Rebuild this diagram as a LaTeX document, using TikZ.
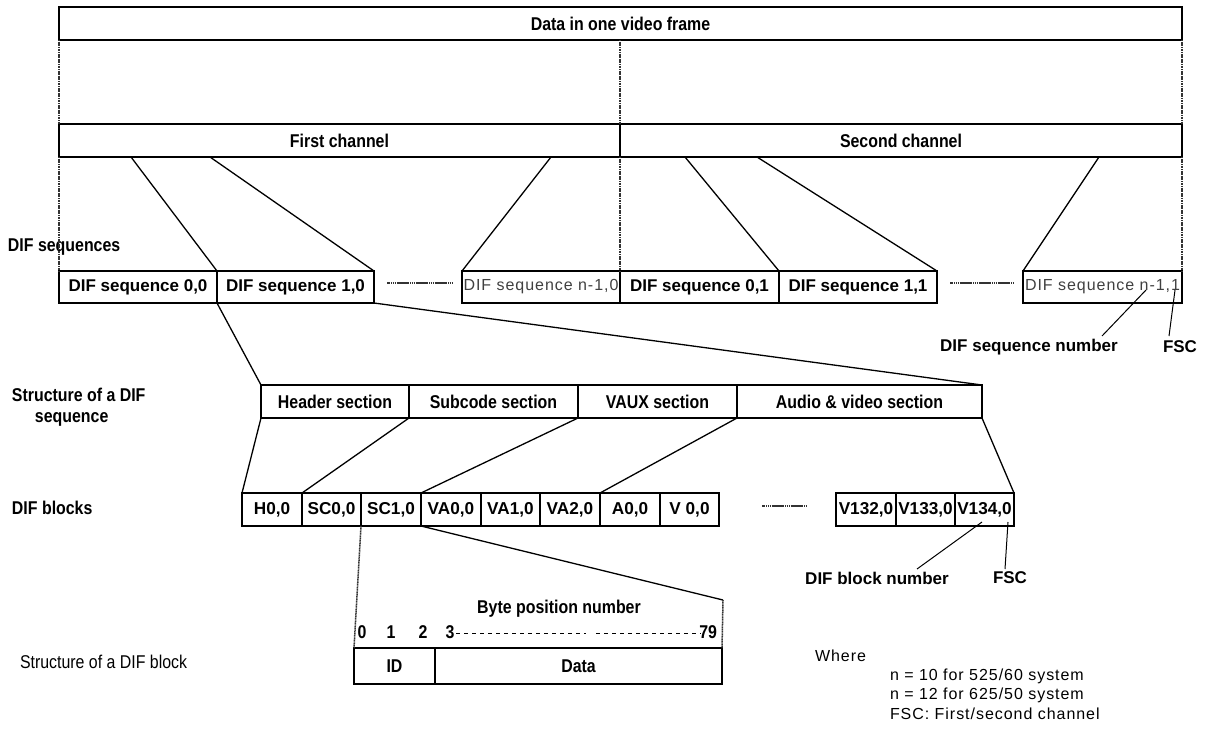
\documentclass[tikz,border=0pt]{standalone}
\usepackage{fontspec}
\setmainfont{Liberation Sans}
\newfontfamily\narfont[FakeStretch=0.86]{Liberation Sans}
\newfontfamily\spcfont[LetterSpace=6]{Liberation Sans}
\usetikzlibrary{calc}
\begin{document}
\begin{tikzpicture}[x=1pt,y=-1pt,
  box/.style={draw, line width=1.3pt, inner sep=0pt, outer sep=0pt, anchor=north west},
  bx/.style 2 args={box, minimum width=#1pt, minimum height=#2pt},
  nb/.style={font=\narfont\bfseries\fontsize{18.5}{21}\selectfont},
  wb/.style={font=\bfseries\fontsize{17}{19}\selectfont},
  blk/.style={font=\bfseries\fontsize{17.2}{19}\selectfont},
  sp/.style={font=\spcfont\fontsize{16}{19}\selectfont},
  lab/.style={inner sep=0pt, outer sep=0pt},
  ln/.style={line width=1.3pt},
  dots/.style={line width=1.5pt, black!80, dash pattern=on 1.2pt off 0.5pt},
  sep/.style={line width=1.8pt, black!80, dash pattern=on 1.5pt off 0.4pt}]
\useasboundingbox (0,0) rectangle (1209,729);

% top frame and channels
\node[bx={1123}{33}, nb] (frame) at (59,7) {Data in one video frame};
\node[bx={561}{33}, nb] (ch1) at (59,124) {First channel};
\node[bx={562}{33}, nb] (ch2) at (620,124) {Second channel};
\draw[dots] (frame.south west) -- (ch1.north west);
\draw[dots] (frame.south east) -- (ch2.north east);
\draw[dots] (ch1.north east |- frame.south) -- (ch1.north east);

% DIF sequences
\node[lab, nb, anchor=west] (lseq) at (8,247) {DIF sequences};
\node[bx={158}{32}, wb] (s00) at (59,271) {DIF sequence 0,0};
\node[bx={157}{32}, wb] (s10) at (217,271) {DIF sequence 1,0};
\node[bx={158}{32}, sp, text=black!75] (sn0) at (462,271) {DIF sequence n-1,0};
\node[bx={159}{32}, wb] (s01) at (620,271) {DIF sequence 0,1};
\node[bx={158}{32}, wb] (s11) at (779,271) {DIF sequence 1,1};
\node[bx={159}{32}, sp, text=black!75] (sn1) at (1023,271) {DIF sequence n-1,1};
\draw[dots] (ch1.south west) -- (s00.north west);
\draw[dots] (ch1.south east) -- (s01.north west);
\draw[dots] (ch2.south east) -- (sn1.north east);
\coordinate (d1a) at (387,283); \coordinate (d1b) at (453,283);
\coordinate (d2a) at (950,283); \coordinate (d2b) at (1014,283);
\draw[sep] (d1a) -- (d1b);
\draw[sep] (d2a) -- (d2b);

% fan lines from channels
\coordinate (f1) at (131,157); \coordinate (f2) at (210,157); \coordinate (f3) at (551,157);
\coordinate (f4) at (685,157); \coordinate (f5) at (757,157); \coordinate (f6) at (1099,157);
\draw[ln] (f1) -- (s00.north east);
\draw[ln] (f2) -- (s10.north east);
\draw[ln] (f3) -- (sn0.north west);
\draw[ln] (f4) -- (s01.north east);
\draw[ln] (f5) -- (s11.north east);
\draw[ln] (f6) -- (sn1.north west);

% sequence number / FSC labels
\node[lab, wb] (lsn) at (1029,347) {DIF sequence number};
\node[lab, wb] (lfsc1) at (1180,347) {FSC};
\coordinate (p1a) at (1102,336); \coordinate (p1b) at (1146,290);
\coordinate (p2a) at (1169,336); \coordinate (p2b) at (1175,290);
\draw[line width=1pt] (p1a) -- (p1b);
\draw[line width=1pt] (p2a) -- (p2b);

% structure of a DIF sequence
\node[lab, nb, anchor=north west, align=left] (lstr) at (12,388) {Structure of a DIF\\\hspace*{23pt}sequence};
\node[bx={148}{33}, nb] (hdr) at (261,385) {Header section};
\node[bx={169}{33}, nb] (sub) at (409,385) {Subcode section};
\node[bx={159}{33}, nb] (vaux) at (578,385) {VAUX section};
\node[bx={245}{33}, nb] (av) at (737,385) {Audio \& video section};
\draw[ln] (s00.south east) -- (hdr.north west);
\draw[ln] (s10.south east) -- (av.north east);

% DIF blocks
\node[lab, nb, anchor=west] (lblk) at (12,508) {DIF blocks};
\node[bx={60}{33}, blk] (h00) at (242,493) {H0,0};
\node[bx={59}{33}, blk] (sc00) at (302,493) {SC0,0};
\node[bx={60}{33}, blk] (sc10) at (361,493) {SC1,0};
\node[bx={60}{33}, blk] (va00) at (421,493) {VA0,0};
\node[bx={59}{33}, blk] (va10) at (481,493) {VA1,0};
\node[bx={60}{33}, blk] (va20) at (540,493) {VA2,0};
\node[bx={60}{33}, blk] (a00) at (600,493) {A0,0};
\node[bx={59}{33}, blk] (v00) at (660,493) {V 0,0};
\node[bx={60}{33}, blk] (v132) at (836,493) {V132,0};
\node[bx={59}{33}, blk] (v133) at (896,493) {V133,0};
\node[bx={59}{33}, blk] (v134) at (955,493) {V134,0};
\coordinate (d3a) at (762,506); \coordinate (d3b) at (806,506);
\draw[sep] (d3a) -- (d3b);
\draw[ln] (hdr.south west) -- (h00.north west);
\draw[ln] (hdr.south east) -- (sc00.north west);
\draw[ln] (sub.south east) -- (va00.north west);
\draw[ln] (vaux.south east) -- (a00.north west);
\draw[ln] (av.south east) -- (v134.north east);

% block number / FSC labels
\node[lab, wb] (lbn) at (877,578) {DIF block number};
\node[lab, wb] (lfsc2) at (1010,578) {FSC};
\coordinate (p3a) at (917,569); \coordinate (p3b) at (982,522);
\coordinate (p4a) at (1005,569); \coordinate (p4b) at (1008,522);
\draw[line width=1pt] (p3a) -- (p3b);
\draw[line width=1pt] (p4a) -- (p4b);

% structure of a DIF block
\node[lab, anchor=west, font=\narfont\fontsize{18.5}{21}\selectfont] (lsb) at (20,662) {Structure of a DIF block};
\node[bx={81}{36}, nb] (id) at (354,648) {ID};
\node[bx={287}{36}, nb] (data) at (435,648) {Data};
\coordinate (corner) at (723,600);
\draw[dots] (sc10.south west) -- (id.north west);
\draw[ln] (va00.south west) -- (corner);
\draw[dots] (corner) -- (data.north east);
\node[lab, nb] (lbp) at (559,609) {Byte position number};
\node[lab, nb] (b0) at (362,632) {0};
\node[lab, nb] (b1) at (391,632) {1};
\node[lab, nb] (b2) at (423,632) {2};
\node[lab, nb] (b3) at (450,632) {3};
\node[lab, nb, anchor=east] (b79) at (717,632) {79};
\coordinate (e1a) at (456,633); \coordinate (e1b) at (586,633);
\coordinate (e2a) at (596,633); \coordinate (e2b) at (701,633);
\draw[line width=1pt, dash pattern=on 4pt off 4pt] (e1a) -- (e1b);
\draw[line width=1pt, dash pattern=on 4pt off 4pt] (e2a) -- (e2b);

% legend
\node[lab, sp, anchor=west] (lw) at (815,656) {Where};
\node[lab, sp, anchor=west] (lw1) at (890,676) {n = 10 for 525/60 system};
\node[lab, sp, anchor=west] (lw2) at (890,695) {n = 12 for 625/50 system};
\node[lab, sp, anchor=west] (lw3) at (890,714) {FSC: First/second channel};
\end{tikzpicture}
\end{document}
